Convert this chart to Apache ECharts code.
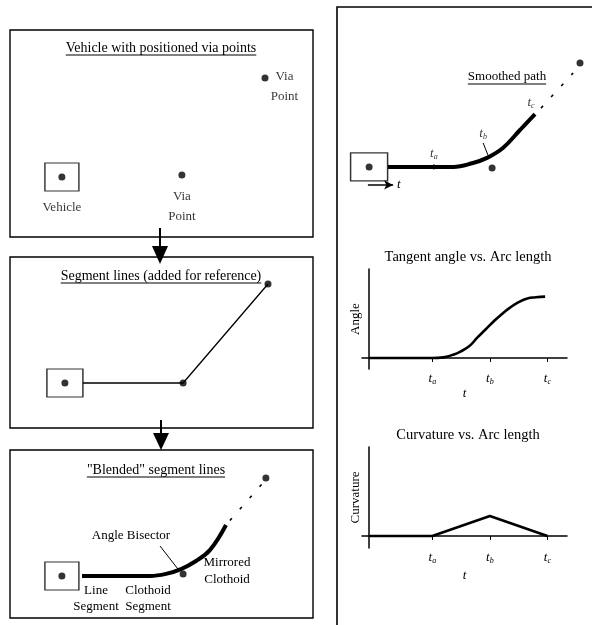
<!DOCTYPE html>
<html>
<head>
<meta charset="utf-8">
<script src="https://cdn.jsdelivr.net/npm/echarts@6.0.0/dist/echarts.min.js"></script>
<style>
html, body { margin: 0; padding: 0; background: #fff; }
#chart { width: 592px; height: 625px; }
</style>
</head>
<body>
<div id="chart"></div>
<script>
// Scene units for the diagrams: about 3 px per unit, y measured up from panel bottom
const vehicle1 = [17.3, 20];
const viaPoints1 = [[57.3, 20.7], [85, 53]];

const vehicle2 = [18.3, 15];
const segmentLine2 = [[24.3, 15], [57.7, 15], [86, 48]];

const vehicle3 = [17.3, 14];
const viaPoints3 = [[57.7, 14.7], [85.3, 46.7]];
const blendedPath3 = [[24, 14], [46.7, 14], [52, 14.7], [57, 16.3], [62, 19], [66.7, 22.7], [72, 31]];
const blendedDash3 = [[73.3, 32.5], [84, 44.7]];
const bisector3 = [[50, 24], [56, 16.3]];

const vehicle4 = [9.7, 10.7];
const viaPoints4 = [[50.7, 10.3], [80, 45.3]];
const smoothPath4 = [[16, 10.7], [37.7, 10.7], [44.3, 12], [49, 13.7], [54.3, 17], [60, 23], [65, 28.3]];
const smoothDash4 = [[67, 30.3], [77.7, 42]];
const taTick4 = [[31.3, 9.8], [31.3, 11.6]];
const tbLeader4 = [[47.7, 18.7], [49.7, 13.7]];
const tArrow4 = [[9.3, 4.7], [17.7, 4.7]];

// Profiles along arc length t
const tMarks = [1.1, 2.1, 3.1];
const tNames = ['a', 'b', 'c'];
const angleT = [0, 1.1, 1.29, 1.45, 1.58, 1.75, 1.88, 2.02, 2.16, 2.3, 2.45, 2.6, 2.75, 2.9, 3.06];
const angleV = [0, 0, 0.01, 0.05, 0.1, 0.2, 0.33, 0.46, 0.59, 0.71, 0.82, 0.91, 0.97, 0.99, 1.0];
const curvT = [0, 1.1, 2.1, 3.1];
const curvV = [0, 0, 1, 0];

const INK = '#000';
const SERIF = '"Liberation Serif", "DejaVu Serif", serif';

const subRich = {
    t: { fontFamily: SERIF, fontStyle: 'italic', fontSize: 13, color: INK },
    s: { fontFamily: SERIF, fontStyle: 'italic', fontSize: 8, color: INK, padding: [7, 0, 0, 0] }
};
const tLabel = (n) => '{t|t}{s|' + n + '}';

// text width for the underlined titles
const measure = document.createElement('canvas').getContext('2d');
function underlined(text, cx, cy, size) {
    measure.font = size + 'px ' + SERIF;
    const w = measure.measureText(text).width;
    return [
        { type: 'text', x: cx, y: cy, style: { text: text, fontFamily: SERIF, fontSize: size, fill: INK, align: 'center', verticalAlign: 'middle' } },
        { type: 'line', shape: { x1: cx - w / 2, y1: cy + 7, x2: cx + w / 2, y2: cy + 7 }, style: { stroke: INK, lineWidth: 1 } }
    ];
}
function plainText(text, cx, cy, size, extra) {
    return { type: 'text', x: cx, y: cy, style: Object.assign({ text: text, fontFamily: SERIF, fontSize: size, fill: INK, align: 'center', verticalAlign: 'middle', lineHeight: 16 }, extra || {}) };
}
function downArrow(x, y0, yBase, yTip) {
    return [
        { type: 'line', shape: { x1: x, y1: y0, x2: x, y2: yBase }, style: { stroke: INK, lineWidth: 2 } },
        { type: 'polygon', shape: { points: [[x - 8, yBase], [x + 8, yBase], [x, yTip]] }, style: { fill: INK } }
    ];
}

const labelFont = { fontFamily: SERIF, fontSize: 13, color: INK, textBorderWidth: 0 };

// series helpers
function vehicleBox(g, pt, size, label) {
    return [
        { type: 'scatter', xAxisIndex: g, yAxisIndex: g, data: [pt], symbol: 'rect', symbolSize: size, z: 3,
          itemStyle: { color: '#fff', borderColor: INK, borderWidth: 1.3 },
          label: label ? Object.assign({ show: true, formatter: label, position: 'bottom', distance: 9 }, labelFont) : { show: false } },
        { type: 'scatter', xAxisIndex: g, yAxisIndex: g, data: [pt], symbolSize: 7, z: 4, itemStyle: { color: INK } }
    ];
}
function dots(g, pts, labels) {
    return { type: 'scatter', xAxisIndex: g, yAxisIndex: g, symbolSize: 7, z: 4, itemStyle: { color: INK },
        data: pts.map((p, i) => labels && labels[i]
            ? { value: p, label: Object.assign({ show: true, formatter: 'Via\nPoint', lineHeight: 20 }, labelFont, labels[i]) }
            : p) };
}
function path(g, pts, width, extra) {
    return Object.assign({ type: 'line', xAxisIndex: g, yAxisIndex: g, data: pts, symbol: 'none', z: 2,
        lineStyle: { color: INK, width: width } }, extra || {});
}
function anchor(g, pt, label) {
    return { type: 'scatter', xAxisIndex: g, yAxisIndex: g, symbolSize: 0, z: 5,
        data: [{ value: pt, label: Object.assign({ show: true, rich: subRich }, label) }] };
}

const grids = [
    { left: 10, top: 30, width: 303, height: 207 },
    { left: 10, top: 257, width: 303, height: 171 },
    { left: 10, top: 450, width: 303, height: 168 },
    { left: 340, top: 40, width: 252, height: 159 },
    { left: 362, top: 269, width: 205, height: 100 },
    { left: 362, top: 447, width: 205, height: 101 }
];
const sceneY = [69, 57, 56, 53];

const xAxes = [], yAxes = [];
for (let i = 0; i < 4; i++) {
    xAxes.push({ gridIndex: i, type: 'value', min: 0, max: i < 3 ? 101 : 84, show: false });
    yAxes.push({ gridIndex: i, type: 'value', min: 0, max: sceneY[i], show: false });
}
const plotNames = ['Angle', 'Curvature'];
const plotY = [[-0.18, 1.45], [-0.6, 4.45]];
const plotNameGap = [18, 21];
for (let k = 0; k < 2; k++) {
    xAxes.push({
        gridIndex: 4 + k, type: 'value', min: -0.122, max: 3.44,
        axisLine: { onZero: true, lineStyle: { color: INK, width: 1.5 } },
        axisTick: { show: true, customValues: tMarks, length: 4, lineStyle: { color: INK } },
        axisLabel: { customValues: tMarks, margin: 2, formatter: (v) => tLabel(tNames[tMarks.indexOf(v)]), rich: subRich },
        splitLine: { show: false },
        name: 't', nameLocation: 'middle', nameGap: plotNameGap[k], nameMoveOverlap: false,
        nameTextStyle: { fontFamily: SERIF, fontStyle: 'italic', fontSize: 13, color: INK }
    });
    yAxes.push({
        gridIndex: 4 + k, type: 'value', min: plotY[k][0], max: plotY[k][1],
        axisLine: { show: true, onZero: true, lineStyle: { color: INK, width: 1.5 } },
        axisTick: { show: false }, axisLabel: { show: false }, splitLine: { show: false },
        name: plotNames[k], nameLocation: 'middle', nameRotate: 90, nameGap: 0, nameMoveOverlap: false,
        nameTextStyle: { fontFamily: SERIF, fontSize: 13, color: INK }
    });
}

const series = [
    // panel 1
    ...vehicleBox(0, vehicle1, [34, 28], 'Vehicle'),
    dots(0, viaPoints1, [
        { position: 'bottom', distance: 8 },
        { position: 'right', distance: 4, align: 'center', offset: [12, 9] }
    ]),
    // panel 2
    ...vehicleBox(1, vehicle2, [36, 28]),
    path(1, segmentLine2, 1.3),
    dots(1, segmentLine2.slice(1)),
    // panel 3
    ...vehicleBox(2, vehicle3, [34, 28]),
    path(2, blendedPath3, 4, { smooth: 0.4 }),
    path(2, blendedDash3, 1.6, { lineStyle: { color: INK, width: 1.6, type: [3, 12] } }),
    path(2, bisector3, 1),
    dots(2, viaPoints3),
    // smoothed path
    ...vehicleBox(3, vehicle4, [37, 28]),
    path(3, smoothPath4, 4, {
        smooth: 0.4,
        markLine: {
            silent: true, symbol: ['none', 'arrow'], symbolSize: [7, 9],
            lineStyle: { color: INK, width: 1.5, type: 'solid' },
            label: { show: true, position: 'end', distance: 4, formatter: 't', fontFamily: SERIF, fontStyle: 'italic', fontSize: 13, color: INK },
            data: [[{ coord: tArrow4[0] }, { coord: tArrow4[1] }]]
        }
    }),
    path(3, smoothDash4, 1.6, { lineStyle: { color: INK, width: 1.6, type: [3, 12] } }),
    path(3, taTick4, 1),
    path(3, tbLeader4, 1),
    dots(3, viaPoints4),
    anchor(3, taTick4[1], { formatter: tLabel('a'), position: 'top', distance: 3 }),
    anchor(3, tbLeader4[0], { formatter: tLabel('b'), position: 'top', distance: 2 }),
    anchor(3, smoothPath4[smoothPath4.length - 1], { formatter: tLabel('c'), position: 'top', distance: 4, offset: [-4, 0] }),
    // profiles
    { type: 'line', xAxisIndex: 4, yAxisIndex: 4, data: angleT.map((t, i) => [t, angleV[i]]), smooth: 0.5, symbol: 'none', lineStyle: { color: INK, width: 2.6 } },
    { type: 'line', xAxisIndex: 5, yAxisIndex: 5, data: curvT.map((t, i) => [t, curvV[i]]), symbol: 'none', lineStyle: { color: INK, width: 2.6 } }
];

const graphic = [
    // right frame
    { type: 'polyline', shape: { points: [[337, 625], [337, 7], [592, 7]] }, style: { stroke: INK, lineWidth: 1.6, fill: null } },
    ...underlined('Vehicle with positioned via points', 161, 48, 14),
    ...underlined('Segment lines (added for reference)', 161, 276, 14),
    ...underlined('"Blended" segment lines', 156, 470, 14),
    ...underlined('Smoothed path', 507, 77, 13),
    plainText('Tangent angle vs. Arc length', 468, 257, 14.5),
    plainText('Curvature vs. Arc length', 468, 435, 14.5),
    plainText('Angle Bisector', 131, 536, 13),
    plainText('Mirrored\nClothoid', 227, 571, 13, { lineHeight: 17 }),
    plainText('Line\nSegment', 96, 599, 13),
    plainText('Clothoid\nSegment', 148, 599, 13),
    ...downArrow(160, 228, 246, 264),
    ...downArrow(161, 420, 433, 450)
];

const chart = echarts.init(document.getElementById('chart'));
chart.setOption({
    backgroundColor: '#fff',
    animation: false,
    grid: grids.map((g, i) => Object.assign({ show: i < 3, borderColor: INK, borderWidth: 1.4, backgroundColor: 'transparent' }, g)),
    xAxis: xAxes,
    yAxis: yAxes,
    series: series,
    graphic: graphic
});
</script>
</body>
</html>
